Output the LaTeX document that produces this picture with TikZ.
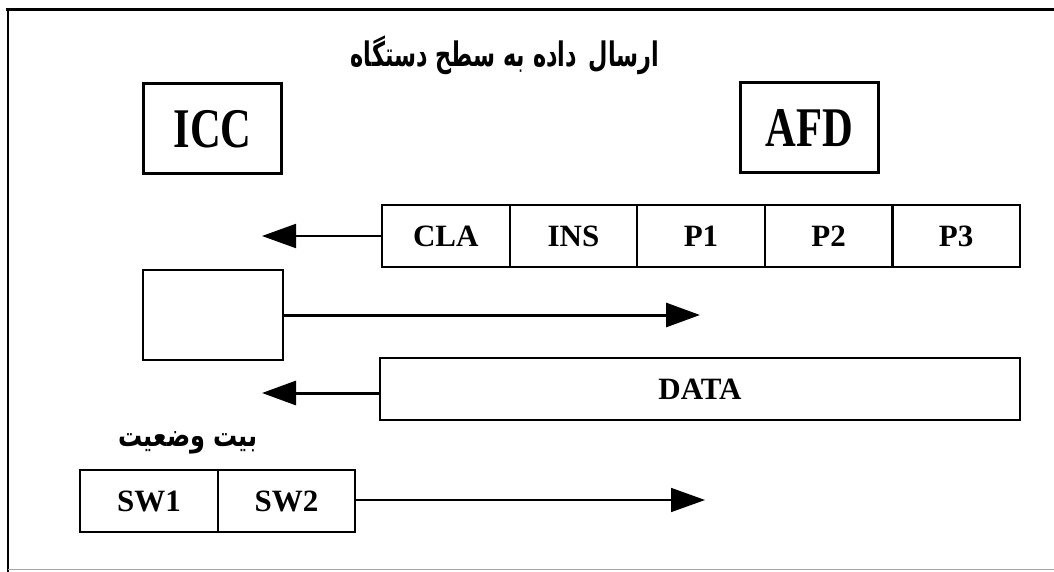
\documentclass[tikz,border=0pt]{standalone}
\usepackage{fontspec}
\setmainfont{Liberation Serif}
\newfontfamily\arabicfont[Script=Arabic]{DejaVu Sans}
\TeXXeTstate=1
\usepackage{tikz}
\usetikzlibrary{positioning}
\usetikzlibrary{arrows.meta}

\begin{document}
\begin{tikzpicture}[x=1pt, y=-1pt,
    cell/.style={draw, line width=2.2pt, minimum width=127.6pt, minimum height=62pt, inner sep=0pt, font=\bfseries\fontsize{31}{36}\selectfont},
    unitbox/.style={draw, line width=3pt, minimum width=138pt, minimum height=90pt, inner sep=0pt, font=\bfseries\fontsize{56}{64}\selectfont},
    sig/.style={-{Triangle[length=34pt, width=24pt]}, line width=#1},
    sig/.default=2pt]
    \useasboundingbox (0,0) rectangle (1054,572);
    % frame
    \draw[line width=3pt] (6,10) -- (1054,10);
    \draw[line width=2pt] (8,10) -- (8,572);
    \draw[line width=1pt, black!35] (8,569) -- (1054,569);

    \node (title) at (505,55) {\arabicfont\bfseries\fontsize{26}{30}\selectfont\scalebox{0.86}[1.3]{\beginR ارسال\hspace{14pt}داده به سطح دستگاه\endR}};

    \node[unitbox] (icc) at (212.5,129) {\scalebox{0.76}[1]{ICC}};
    \node[unitbox] (afd) at (809,128) {\scalebox{0.76}[1]{AFD}};

    % command header
    \node[cell] (cla) at (445.8,236) {CLA};
    \node[cell] (ins) at (573.4,236) {INS};
    \node[cell] (p1) at (701,236) {P1};
    \node[cell] (p2) at (828.6,236) {P2};
    \node[cell] (p3) at (956.2,236) {P3};
    \coordinate (claend) at (262,236);
    \draw[sig] (cla.west) -- (claend);

    \node[draw, line width=2pt, minimum width=140pt, minimum height=90pt] (blank) at (213,315) {};
    \coordinate (blankend) at (700,315);
    \draw[sig=3pt] (blank.east) -- (blankend);

    \node[cell, line width=1.6pt, minimum width=640pt, minimum height=62pt] (data) at (700,389) {DATA};
    \coordinate (dataend) at (262,393);
    \draw[sig=3pt] (data.west |- dataend) -- (dataend);

    % status bytes
    \node (status) at (188,443) {\arabicfont\bfseries\fontsize{24}{28}\selectfont\scalebox{1}[1.3]{\beginR بیت وضعیت\endR}};
    \node[cell, minimum width=138pt, minimum height=62pt] (sw1) at (149,501) {SW1};
    \node[cell, minimum width=137pt, minimum height=62pt] (sw2) at (286.5,501) {SW2};
    \coordinate (swend) at (705,500);
    \draw[sig=1.6pt] (sw2.east |- swend) -- (swend);
\end{tikzpicture}
\end{document}
